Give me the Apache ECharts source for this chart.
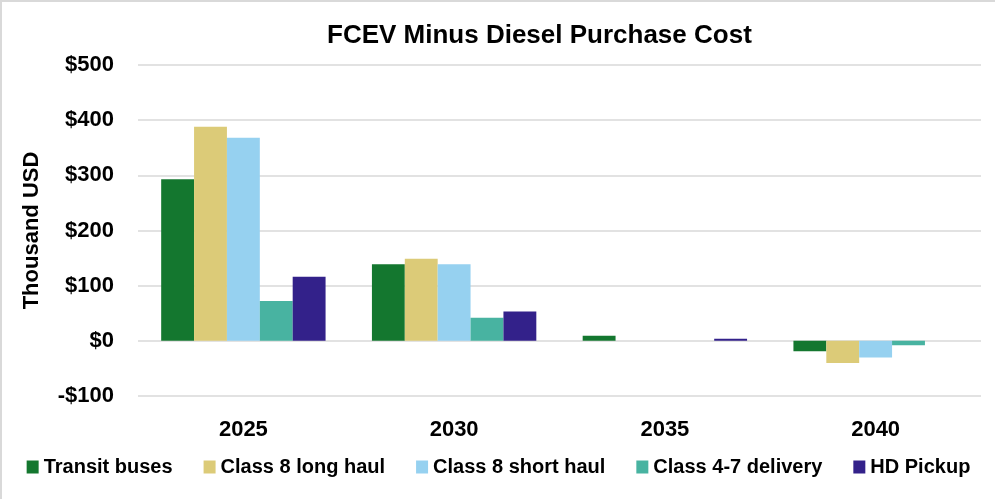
<!DOCTYPE html>
<html>
<head>
<meta charset="utf-8">
<script src="https://cdn.jsdelivr.net/npm/echarts@6/dist/echarts.min.js"></script>
<style>
  html, body { margin: 0; padding: 0; background: #fff; }
  #chart { width: 995px; height: 499px; box-sizing: border-box; border-top: 2px solid #d9d9d9; border-left: 2px solid #d9d9d9; }
</style>
</head>
<body>
<div id="chart"></div>
<script>
const years = ['2025', '2030', '2035', '2040']
const transitBuses = [293, 139, 9, -19]
const class8Long = [388, 149, 0, -40]
const class8Short = [368, 139, 0, -30]
const class47Delivery = [72, 42, 0, -8]
const hdPickup = [116, 53, 4, 0]
const yTicks = [-100, 0, 100, 200, 300, 400, 500]

const font = 'Liberation Sans, Arial, sans-serif'
const chart = echarts.init(document.getElementById('chart'))

function bar(name, data, color) {
  return {
    name: name,
    type: 'bar',
    data: data,
    barGap: '0%',
    barCategoryGap: '22%',
    itemStyle: { color: color },
  }
}

chart.setOption({
  animation: false,
  title: {
    text: 'FCEV Minus Diesel Purchase Cost',
    left: 320,
    top: 16,
    textStyle: { fontFamily: font, fontSize: 26, fontWeight: 'bold', color: '#000' },
  },
  legend: {
    bottom: 17,
    left: 'center',
    itemWidth: 12,
    itemHeight: 13,
    itemGap: 31,
    icon: 'rect',
    textStyle: { fontFamily: font, fontSize: 20, fontWeight: 'bold', color: '#000' },
  },
  grid: {
    left: 136,
    right: 14,
    top: 63,
    bottom: 103,
  },
  xAxis: {
    type: 'category',
    data: years,
    axisTick: { show: false },
    axisLine: { show: false },
    axisLabel: { fontFamily: font, fontSize: 22, fontWeight: 'bold', color: '#000', margin: 23 },
  },
  yAxis: {
    type: 'value',
    min: yTicks[0],
    max: yTicks[yTicks.length - 1],
    interval: 100,
    name: 'Thousand USD',
    nameLocation: 'middle',
    nameGap: 95,
    nameTextStyle: { fontFamily: font, fontSize: 22, fontWeight: 'bold', color: '#000' },
    axisLabel: {
      fontFamily: font,
      fontSize: 22,
      fontWeight: 'bold',
      color: '#000',
      margin: 24,
      formatter: v => (v < 0 ? '-$' + Math.abs(v) : '$' + v),
    },
    splitLine: { lineStyle: { color: '#d9d9d9', width: 1.5 } },
  },
  series: [
    bar('Transit buses', transitBuses, '#14772f'),
    bar('Class 8 long haul', class8Long, '#dccb78'),
    bar('Class 8 short haul', class8Short, '#96d1f0'),
    bar('Class 4-7 delivery', class47Delivery, '#48b3a1'),
    bar('HD Pickup', hdPickup, '#33218a'),
  ],
})
</script>
</body>
</html>
